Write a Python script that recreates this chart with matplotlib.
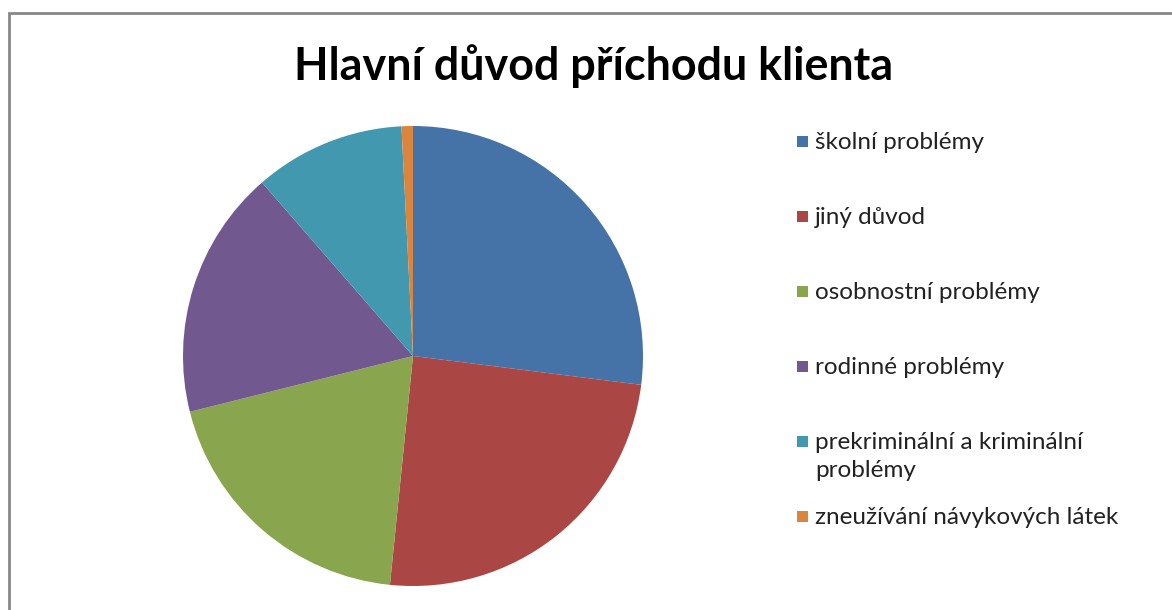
import matplotlib.pyplot as plt
from matplotlib.patches import Rectangle

plt.rcParams['font.family'] = ['Lato', 'DejaVu Sans']

# share of clients (%) by main reason
categories = ["školní problémy", "jiný důvod", "osobnostní problémy",
              "rodinné problémy", "prekriminální a kriminální\nproblémy",
              "zneužívání návykových látek"]
values = [27.0, 24.6, 19.5, 17.5, 10.6, 0.8]
colors = ["#4572A7", "#AA4643", "#89A54E", "#71588F", "#4198AF", "#DB843D"]

W, H = 1172, 610
fig = plt.figure(figsize=(W / 100, H / 100), dpi=100)

# chart frame (only top/left visible in crop)
fig.patches.append(Rectangle((9 / W, -0.1), 1.2, (H - 13) / H + 0.1,
                             transform=fig.transFigure, fill=False,
                             edgecolor="#888888", linewidth=2))

fig.text(594 / W, 1 - 66 / H, "Hlavní důvod příchodu klienta",
         ha="center", va="center", fontsize=32.3, fontweight="bold")

cx, cy, r = 413, 356, 230
ax = fig.add_axes([(cx - r) / W, (H - cy - r) / H, 2 * r / W, 2 * r / H])
ax.pie(values, colors=colors, startangle=90, counterclock=False,
       wedgeprops=dict(linewidth=0))
ax.set_xlim(-1, 1)
ax.set_ylim(-1, 1)
ax.set_aspect("equal")
ax.axis("off")

# legend drawn by hand so the wrapped label keeps the marker on its first line
y0, step = 142, 75
for i, (lab, col) in enumerate(zip(categories, colors)):
    y = y0 + i * step
    fig.patches.append(Rectangle((797 / W, 1 - (y + 5) / H), 11 / W, 11 / H,
                                 transform=fig.transFigure, facecolor=col,
                                 edgecolor="none"))
    fig.text(815 / W, 1 - (y - 10) / H, lab, ha="left", va="top",
             fontsize=17.5, linespacing=1.4, color="#222222")

fig.savefig("out.png", dpi=100)
